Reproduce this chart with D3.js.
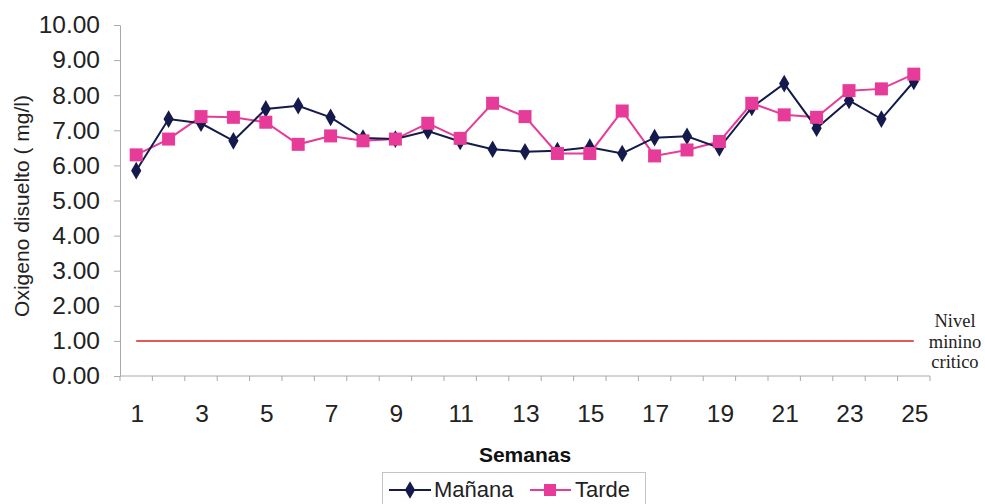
<!DOCTYPE html>
<html>
<head>
<meta charset="utf-8">
<script src="https://cdn.jsdelivr.net/npm/d3@7"></script>
<style>
  html, body { margin: 0; padding: 0; background: #fff; }
  svg { display: block; }
</style>
</head>
<body>
<svg id="chart" width="985" height="504"></svg>
<script>
// Weekly dissolved oxygen readings (mg/l)
const semanas = d3.range(1, 26);
const manana = [5.85, 7.32, 7.20, 6.70, 7.61, 7.70, 7.37, 6.78, 6.75, 6.98, 6.68, 6.46, 6.39, 6.42, 6.52, 6.34,
                6.79, 6.83, 6.50, 7.65, 8.33, 7.06, 7.85, 7.32, 8.39];
const tarde  = [6.30, 6.75, 7.39, 7.37, 7.23, 6.60, 6.84, 6.70, 6.75, 7.20, 6.77, 7.77, 7.39, 6.34, 6.34, 7.55,
                6.27, 6.44, 6.68, 7.77, 7.44, 7.37, 8.13, 8.18, 8.60];
const nivelCritico = 1.0;
const yTicks = d3.range(0, 10.01, 1);
const xTickLabels = semanas.filter(d => d % 2 === 1);

const NAVY = "#141a4c";
const PINK = "#e63b98";
const RED  = "#e05a5a";

const svg = d3.select("#chart");
const x = d3.scalePoint().domain(semanas).range([120, 930]).padding(0.5);
const y = d3.scaleLinear().domain([0, 10]).range([376, 25]);
const step = x.step();

// Y axis
const yAxis = svg.append("g").attr("transform", "translate(120,0)")
  .call(d3.axisLeft(y).tickValues(yTicks).tickFormat(d3.format(".2f")).tickSize(6).tickPadding(14));
yAxis.select(".domain").attr("stroke", "#aaa").attr("stroke-width", 1);
yAxis.selectAll(".tick line").attr("stroke", "#aaa");
yAxis.selectAll(".tick text").attr("font-family", "Liberation Sans, Arial, sans-serif")
  .attr("font-size", 24.5).attr("fill", "#222");

// X axis: ticks on category boundaries, labels on odd weeks
const xAxisG = svg.append("g").attr("transform", `translate(0,${y(0)})`);
xAxisG.append("line").attr("x1", 120).attr("x2", 930).attr("stroke", "#aaa");
xAxisG.selectAll("line.tk").data(d3.range(0, 26)).join("line").attr("class", "tk")
  .attr("x1", i => 120 + i * step).attr("x2", i => 120 + i * step)
  .attr("y1", 0).attr("y2", 5).attr("stroke", "#aaa");
xAxisG.selectAll("text").data(xTickLabels).join("text")
  .attr("x", d => x(d) + 1).attr("y", 46).attr("text-anchor", "middle")
  .attr("font-family", "Liberation Sans, Arial, sans-serif").attr("font-size", 24.5).attr("fill", "#222")
  .text(d => d);

// Axis titles
svg.append("text").attr("transform", "translate(29,206) rotate(-90)")
  .attr("text-anchor", "middle").attr("font-family", "Liberation Sans, Arial, sans-serif")
  .attr("font-size", 21).attr("fill", "#222").text("Oxigeno disuelto ( mg/l)");
svg.append("text").attr("x", 525).attr("y", 462).attr("text-anchor", "middle")
  .attr("font-family", "Liberation Sans, Arial, sans-serif").attr("font-weight", "bold")
  .attr("font-size", 21).attr("fill", "#111").text("Semanas");

// Critical level line
svg.append("line").attr("x1", x(1)).attr("x2", x(25))
  .attr("y1", y(nivelCritico)).attr("y2", y(nivelCritico))
  .attr("stroke", RED).attr("stroke-width", 2);
const nivel = svg.append("text").attr("text-anchor", "middle")
  .attr("font-family", "Liberation Serif, Times New Roman, serif").attr("font-size", 18.5).attr("fill", "#222");
["Nivel", "minino", "critico"].forEach((t, i) =>
  nivel.append("tspan").attr("x", 955).attr("y", 327 + i * 20.5).text(t));

// Series
const line = d3.line().x((d, i) => x(semanas[i])).y(d => y(d));
const diamond = d3.symbol().type(d3.symbolDiamond).size(90);

svg.append("path").datum(tarde).attr("d", line).attr("fill", "none")
  .attr("stroke", PINK).attr("stroke-width", 2);
svg.append("path").datum(manana).attr("d", line).attr("fill", "none")
  .attr("stroke", NAVY).attr("stroke-width", 2);

svg.selectAll("path.dm").data(manana).join("path").attr("class", "dm")
  .attr("d", diamond).attr("fill", NAVY)
  .attr("transform", (d, i) => `translate(${x(semanas[i])},${y(d)})`);
svg.selectAll("rect.sq").data(tarde).join("rect").attr("class", "sq")
  .attr("x", (d, i) => x(semanas[i]) - 6.5).attr("y", d => y(d) - 6.5)
  .attr("width", 13).attr("height", 13).attr("fill", PINK);

// Legend
const lg = svg.append("g");
lg.append("rect").attr("x", 382.5).attr("y", 472.5).attr("width", 263).attr("height", 40)
  .attr("fill", "none").attr("stroke", "#c4c4c4");
lg.append("line").attr("x1", 389).attr("x2", 431).attr("y1", 490).attr("y2", 490).attr("stroke", NAVY).attr("stroke-width", 2);
lg.append("path").attr("d", diamond).attr("fill", NAVY).attr("transform", "translate(410,490)");
lg.append("text").attr("x", 434).attr("y", 497).attr("font-family", "Liberation Sans, Arial, sans-serif")
  .attr("font-size", 22).attr("fill", "#222").text("Mañana");
lg.append("line").attr("x1", 530).attr("x2", 571).attr("y1", 490).attr("y2", 490).attr("stroke", PINK).attr("stroke-width", 2);
lg.append("rect").attr("x", 544).attr("y", 484).attr("width", 12).attr("height", 12).attr("fill", PINK);
lg.append("text").attr("x", 575).attr("y", 497).attr("font-family", "Liberation Sans, Arial, sans-serif")
  .attr("font-size", 22).attr("fill", "#222").text("Tarde");
</script>
</body>
</html>
